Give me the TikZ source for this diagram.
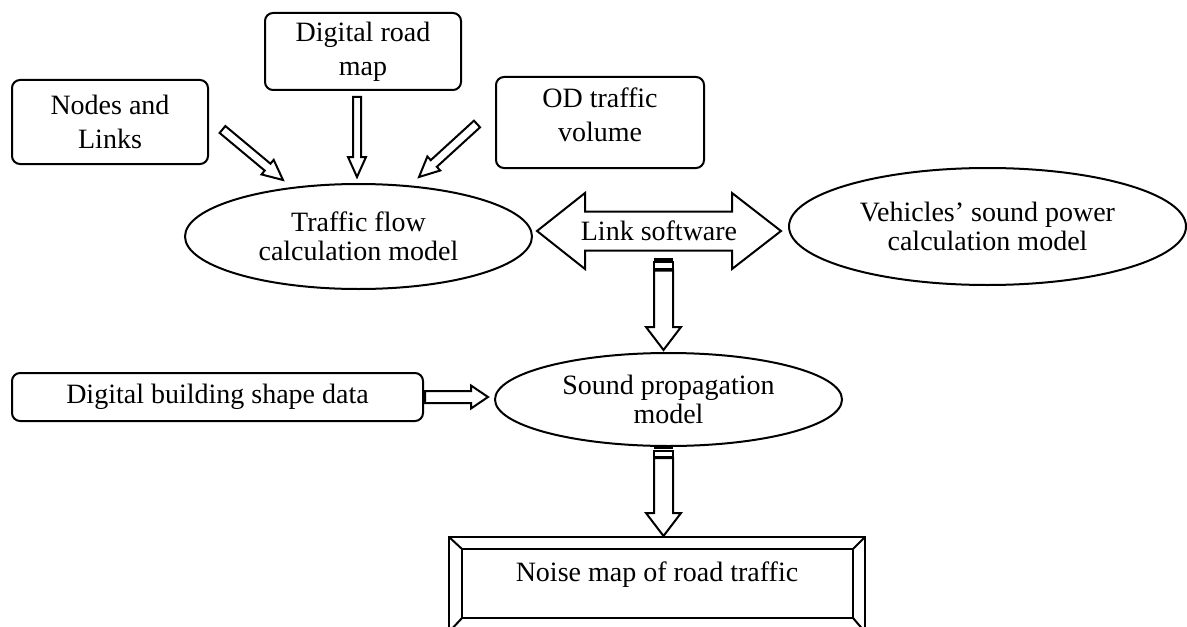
\documentclass[tikz,border=0pt]{standalone}
\usepackage{fontspec}
\setmainfont{Liberation Serif}
\usetikzlibrary{shapes.geometric,calc}

\newcommand\boxfont{\fontsize{14}{17}\selectfont}
\newcommand\ellfont{\fontsize{14}{14.5}\selectfont}

\tikzset{
  inbox/.style={draw, line width=1pt, rounded corners=4pt, align=center, inner sep=0pt, font=\boxfont},
  model/.style={draw, ellipse, line width=1pt, align=center, inner sep=0pt, font=\ellfont},
  blockarrow/.style args={#1/#2/#3}{draw, line width=1pt, fill=white,
    to path={let \p1=(\tikztostart), \p2=(\tikztotarget),
      \n1={atan2(\y2-\y1,\x2-\x1)}, \n2={veclen(\x2-\x1,\y2-\y1)-#3} in
      ($(\p1)+(\n1+90:#1)$) -- ($(\p1)+(\n1:\n2)+(\n1+90:#1)$)
      -- ($(\p1)+(\n1:\n2)+(\n1+90:#2)$) -- (\p2)
      -- ($(\p1)+(\n1:\n2)+(\n1-90:#2)$) -- ($(\p1)+(\n1:\n2)+(\n1-90:#1)$)
      -- ($(\p1)+(\n1-90:#1)$) -- cycle}},
}

\begin{document}
\begin{tikzpicture}[x=0.5pt, y=-0.5pt]
\useasboundingbox (0,0) rectangle (1187,626);

% Inputs
\node[inbox, minimum width=98pt, minimum height=42pt] (nodes) at (110,122) {Nodes and\\Links};
\node[inbox, minimum width=98pt, minimum height=38.5pt] (roadmap) at (363,51.5) {Digital road\\map};
\node[inbox, minimum width=104pt, minimum height=45.5pt, text depth=8pt] (od) at (600,122.5) {OD traffic\\volume};
\node[inbox, minimum width=205.5pt, minimum height=24pt] (building) at (217.5,397) {Digital building shape data};

% Models
\node[model, minimum width=173.5pt, minimum height=52.5pt] (traffic) at (358.5,236.5) {Traffic flow\\calculation model};
\node[model, minimum width=198.5pt, minimum height=58.5pt] (vehicles) at (987.5,226.5) {Vehicles’ sound power\\calculation model};
\node[model, minimum width=173.5pt, minimum height=46.5pt] (sound) at (668.5,399.5) {Sound propagation\\model};

% Link software
\draw[line width=1pt] (537,231) -- (585,193) -- (585,211.5) -- (732,211.5) -- (732,193) -- (781,231)
  -- (732,269) -- (732,250.5) -- (585,250.5) -- (585,269) -- cycle;
\node[font=\boxfont] (link) at (659,231) {Link software};

% Result
\draw[line width=1pt] (449,537) rectangle (865,632);
\draw[line width=1pt] (462,549) rectangle (853,618);
\draw[line width=1pt] (449,537) -- (462,549) (865,537) -- (853,549) (449,632) -- (462,618) (865,632) -- (853,618);
\node[font=\boxfont] (noise) at (657,575) {Noise map of road traffic};

% Arrow ends
\coordinate (nodes-out) at (222.5,129.5);
\coordinate (traffic-in1) at (283,180);
\coordinate (roadmap-out) at (357,97);
\coordinate (traffic-in2) at (357,177);
\coordinate (od-out) at (477,124);
\coordinate (traffic-in3) at (419,177);
\coordinate (building-out) at (425,397);
\coordinate (sound-in1) at (488,397);
\coordinate (link-out) at (663.5,270.5);
\coordinate (sound-in2) at (663.5,350);
\coordinate (sound-out) at (663.5,458);
\coordinate (noise-in) at (663.5,536);

% Arrows
\draw[blockarrow=2.25pt/4.75pt/10pt] (nodes-out) to (traffic-in1);
\draw[blockarrow=2pt/4.5pt/10pt] (roadmap-out) to (traffic-in2);
\draw[blockarrow=2.25pt/4.75pt/10pt] (od-out) to (traffic-in3);
\draw[blockarrow=3pt/5.75pt/8.5pt] (building-out) to (sound-in1);
\draw[blockarrow=4.75pt/8.75pt/11.5pt] (link-out) to (sound-in2);
\draw[blockarrow=4.75pt/8.75pt/11.5pt] (sound-out) to (noise-in);

% Stripes
\fill (654,257.5) rectangle (673,260.5);
\draw[line width=1pt] (654,262) rectangle (673,269);
\fill (654,446) rectangle (673,449);
\draw[line width=1pt] (654,450.5) rectangle (673,456.5);
\end{tikzpicture}
\end{document}
